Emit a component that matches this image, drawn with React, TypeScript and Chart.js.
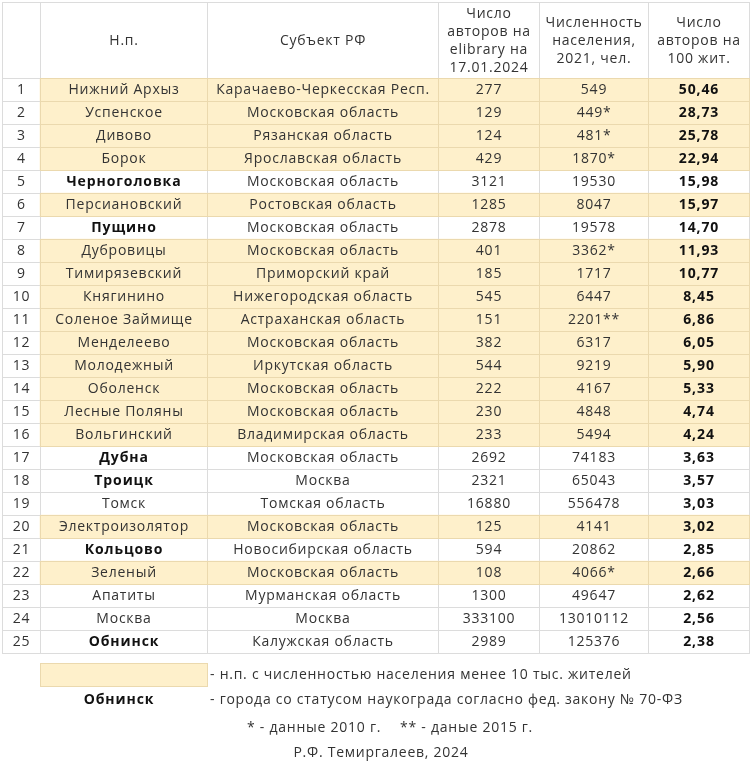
import { useEffect, useRef } from 'react';
import { Chart, registerables } from 'chart.js';

Chart.register(...registerables);

// ---- Data ----
const rowNumbers = [1, 2, 3, 4, 5, 6, 7, 8, 9, 10, 11, 12, 13, 14, 15, 16, 17, 18, 19, 20, 21, 22, 23, 24, 25];
const places = [
  'Нижний Архыз', 'Успенское', 'Дивово', 'Борок', 'Черноголовка', 'Персиановский', 'Пущино',
  'Дубровицы', 'Тимирязевский', 'Княгинино', 'Соленое Займище', 'Менделеево', 'Молодежный',
  'Оболенск', 'Лесные Поляны', 'Вольгинский', 'Дубна', 'Троицк', 'Томск', 'Электроизолятор',
  'Кольцово', 'Зеленый', 'Апатиты', 'Москва', 'Обнинск',
];
const regions = [
  'Карачаево-Черкесская Респ.', 'Московская область', 'Рязанская область', 'Ярославская область',
  'Московская область', 'Ростовская область', 'Московская область', 'Московская область',
  'Приморский край', 'Нижегородская область', 'Астраханская область', 'Московская область',
  'Иркутская область', 'Московская область', 'Московская область', 'Владимирская область',
  'Московская область', 'Москва', 'Томская область', 'Московская область', 'Новосибирская область',
  'Московская область', 'Мурманская область', 'Москва', 'Калужская область',
];
const authors = [277, 129, 124, 429, 3121, 1285, 2878, 401, 185, 545, 151, 382, 544, 222, 230, 233, 2692, 2321, 16880, 125, 594, 108, 1300, 333100, 2989];
const population = [549, 449, 481, 1870, 19530, 8047, 19578, 3362, 1717, 6447, 2201, 6317, 9219, 4167, 4848, 5494, 74183, 65043, 556478, 4141, 20862, 4066, 49647, 13010112, 125376];
const popNotes = ['', '*', '*', '*', '', '', '', '*', '', '', '**', '', '', '', '', '', '', '', '', '', '', '*', '', '', ''];
const perHundred = [50.46, 28.73, 25.78, 22.94, 15.98, 15.97, 14.70, 11.93, 10.77, 8.45, 6.86, 6.05, 5.90, 5.33, 4.74, 4.24, 3.63, 3.57, 3.03, 3.02, 2.85, 2.66, 2.62, 2.56, 2.38];
const naukograds = ['Черноголовка', 'Пущино', 'Дубна', 'Троицк', 'Кольцово', 'Обнинск'];
const headers = [
  [] as string[],
  ['Н.п.'],
  ['Субъект РФ'],
  ['Число', 'авторов на', 'elibrary на', '17.01.2024'],
  ['Численность', 'населения,', '2021, чел.'],
  ['Число', 'авторов на', '100 жит.'],
];
const legendSmall = '- н.п. с численностью населения менее 10 тыс. жителей';
const legendCityName = 'Обнинск';
const legendCity = '- города со статусом наукограда согласно фед. закону № 70-ФЗ';
const note2010 = '* - данные 2010 г.';
const note2015 = '** - даные 2015 г.';
const author = 'Р.Ф. Темиргалеев, 2024';
const SMALL_LIMIT = 10000;

// ---- Layout / style ----
const COL_EDGES = [0, 38, 205, 436, 537, 646, 747];
const BEIGE = '#FEF0CB';
const TAN = '#EBD9AE';
const GRID = '#DCDCDC';
const TEXT = '#333333';
const BOLD = '#111111';
const FONT = '"Open Sans", sans-serif';
const SIZE = 14;
const SPACING = '0.75px';
const BOLD_SPACING = '0.9px';

const isSmall = population.map((p) => p < SMALL_LIMIT);
const beigeSpans = isSmall.map((s) => (s ? [COL_EDGES[1], COL_EDGES[6]] : null));

const tablePlugin = {
  id: 'tablePlugin',
  afterDatasetsDraw(chart: any) {
    const { ctx, chartArea, scales } = chart;
    const xs = scales.x;
    const ys = scales.y;
    const X = (v: number) => Math.round(xs.getPixelForValue(v));
    const rowH = ys.getPixelForValue(1) - ys.getPixelForValue(0);
    const rowTop = (i: number) => Math.round(ys.getPixelForValue(i) - rowH / 2);
    const headTop = chartArea.top - 76;
    const bottom = chartArea.bottom;
    const left = X(COL_EDGES[0]);
    const right = X(COL_EDGES[6]);

    ctx.save();
    // gray grid
    ctx.fillStyle = GRID;
    for (const e of COL_EDGES) ctx.fillRect(X(e), headTop, 1, bottom - headTop + 1);
    ctx.fillRect(left, headTop, right - left + 1, 1);
    for (let i = 0; i <= rowNumbers.length; i++) ctx.fillRect(left, i < rowNumbers.length ? rowTop(i) : Math.round(bottom), right - left + 1, 1);
    // tan borders for beige rows
    ctx.fillStyle = TAN;
    rowNumbers.forEach((_, i) => {
      if (!isSmall[i]) return;
      const t = rowTop(i);
      const b = Math.round(t + rowH);
      const x0 = X(COL_EDGES[1]);
      ctx.fillRect(x0, t, right - x0 + 1, 1);
      ctx.fillRect(x0, b, right - x0 + 1, 1);
      for (let c = 1; c < COL_EDGES.length; c++) ctx.fillRect(X(COL_EDGES[c]), t, 1, b - t + 1);
    });

    const text = (s: string, x: number, y: number, bold = false, align: CanvasTextAlign = 'center') => {
      ctx.font = `${bold ? '700 ' : ''}${SIZE}px ${FONT}`;
      (ctx as any).letterSpacing = bold ? BOLD_SPACING : SPACING;
      ctx.fillStyle = bold ? BOLD : TEXT;
      ctx.textAlign = align;
      ctx.textBaseline = 'middle';
      ctx.fillText(s, x, y);
    };
    const colCenter = (c: number) => (xs.getPixelForValue(COL_EDGES[c]) + xs.getPixelForValue(COL_EDGES[c + 1])) / 2 + 0.5;

    // header
    const headMid = (headTop + chartArea.top) / 2 + 1;
    headers.forEach((lines, c) => {
      const lh = 18;
      lines.forEach((ln, k) => text(ln, colCenter(c), headMid + (k - (lines.length - 1) / 2) * lh));
    });

    // body
    rowNumbers.forEach((n, i) => {
      const y = ys.getPixelForValue(i) + 1;
      text(String(n), colCenter(0), y);
      text(places[i], colCenter(1), y, naukograds.includes(places[i]));
      text(regions[i], colCenter(2), y);
      text(String(authors[i]), colCenter(3), y);
      text(String(population[i]) + popNotes[i], colCenter(4), y);
      text(perHundred[i].toFixed(2).replace('.', ','), colCenter(5), y, true);
    });

    // legend
    const lx0 = X(COL_EDGES[1]);
    const lx1 = X(COL_EDGES[2]);
    const ly = Math.round(bottom) + 10;
    ctx.fillStyle = BEIGE;
    ctx.fillRect(lx0, ly, lx1 - lx0, rowH);
    ctx.strokeStyle = TAN;
    ctx.lineWidth = 1;
    ctx.strokeRect(lx0 + 0.5, ly + 0.5, lx1 - lx0, rowH);
    text(legendSmall, lx1 + 3, ly + rowH / 2 + 1, false, 'left');
    text(legendCityName, colCenter(1) - 5, bottom + 47, true);
    text(legendCity, lx1 + 3, bottom + 47, false, 'left');
    text(note2010, 247, bottom + 75, false, 'left');
    text(note2015, 400, bottom + 75, false, 'left');
    text(author, 381, bottom + 100);
    ctx.restore();
  },
};

export default function App() {
  const ref = useRef<HTMLCanvasElement>(null);
  useEffect(() => {
    document.body.style.margin = '0';
    const chart = new Chart(ref.current!, {
      type: 'bar',
      data: {
        labels: rowNumbers.map(String),
        datasets: [
          {
            data: beigeSpans as any,
            backgroundColor: BEIGE,
            borderWidth: 0,
            barPercentage: 1,
            categoryPercentage: 1,
          },
        ],
      },
      options: {
        indexAxis: 'y',
        responsive: false,
        animation: false,
        layout: { padding: { left: 2, right: 2, top: 78, bottom: 118 } },
        scales: {
          x: { type: 'linear', min: 0, max: 747, display: false },
          y: { type: 'category', display: false, offset: true },
        },
        plugins: { legend: { display: false }, tooltip: { enabled: false } },
      },
      plugins: [tablePlugin],
    });
    return () => chart.destroy();
  }, []);
  return <canvas ref={ref} width={751} height={771} style={{ display: 'block' }} />;
}
